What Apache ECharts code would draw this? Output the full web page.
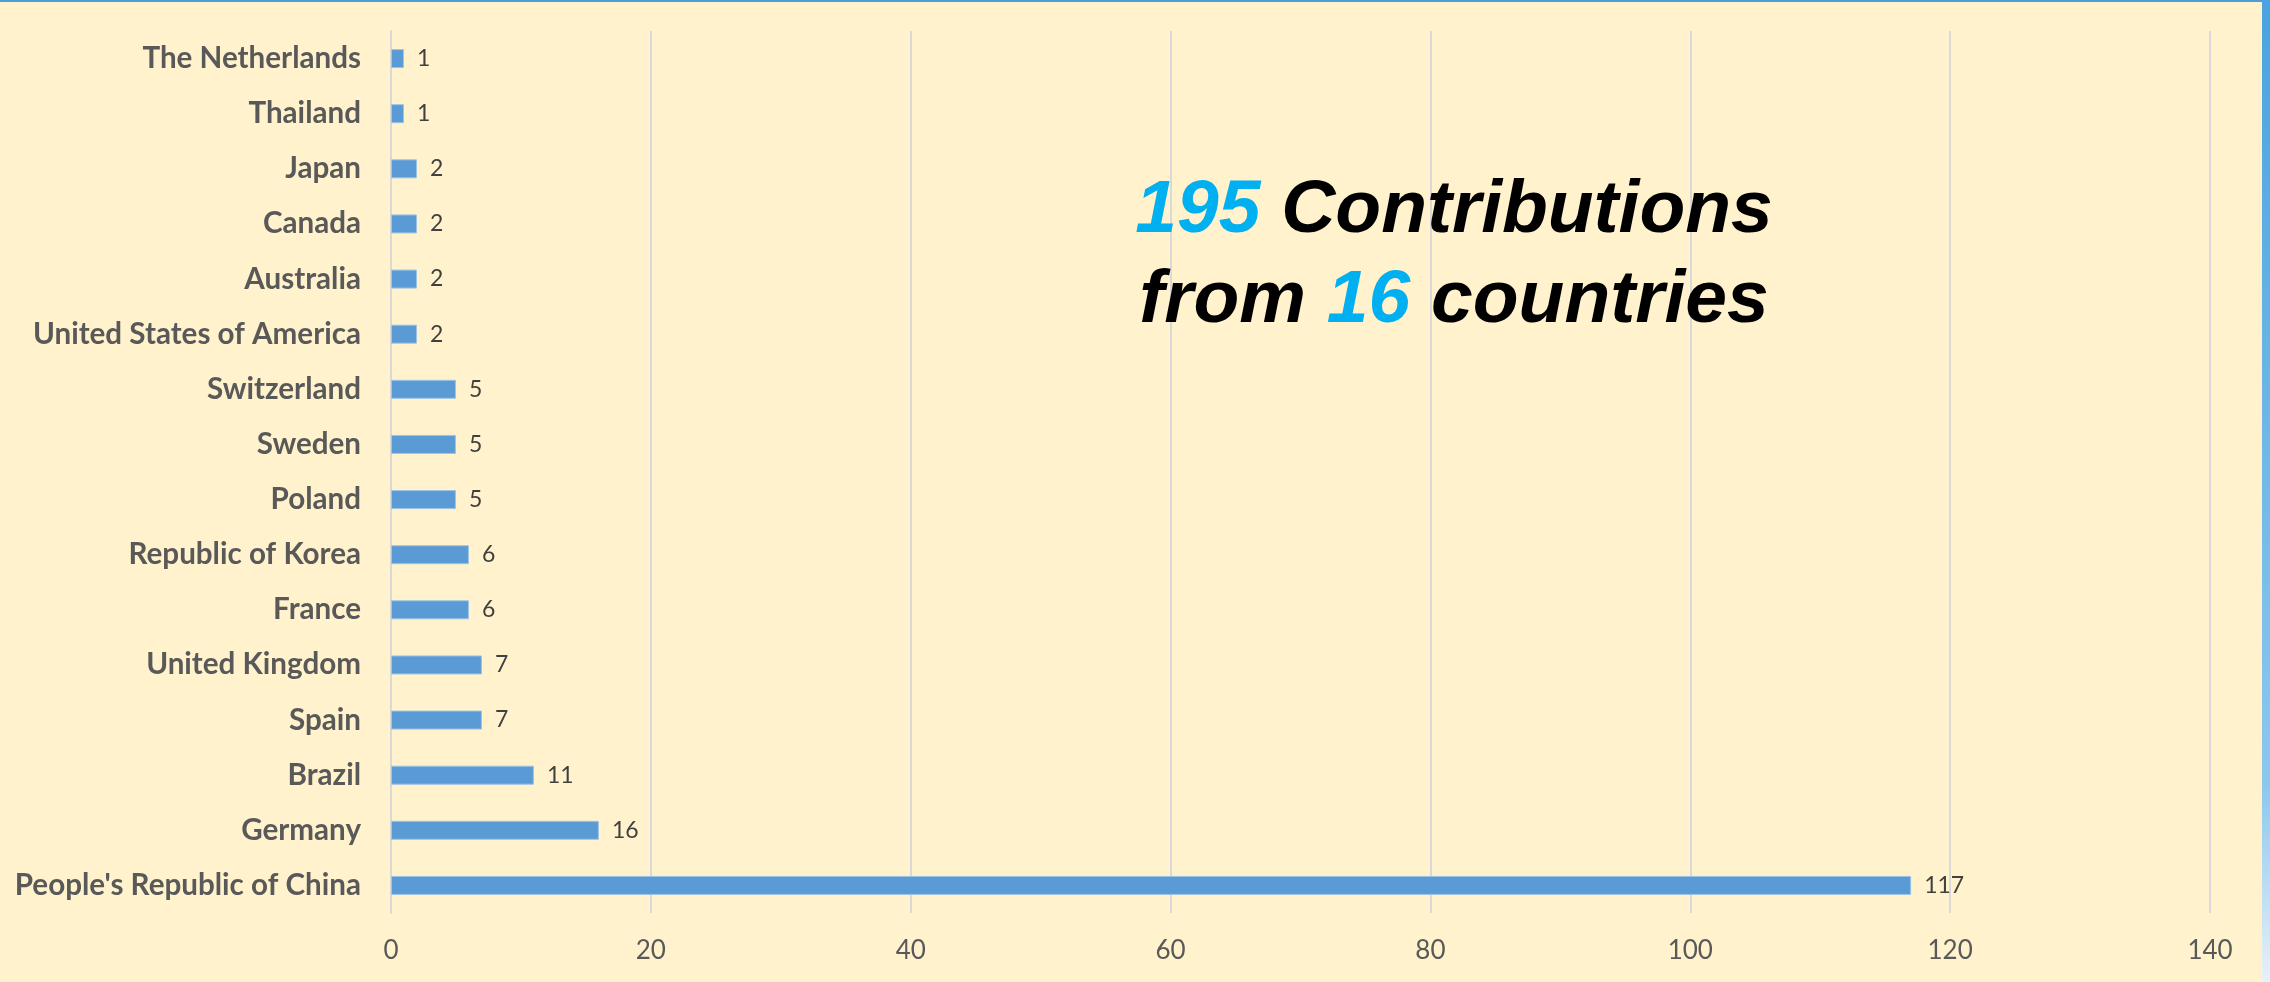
<!DOCTYPE html>
<html>
<head>
<meta charset="utf-8">
<script src="https://cdn.jsdelivr.net/npm/echarts@6/dist/echarts.min.js"></script>
<style>
html,body{margin:0;padding:0;background:#FFF2CC;}
#chart{width:2270px;height:982px;}
</style>
</head>
<body>
<div id="chart"></div>
<script>
const categories = ["The Netherlands","Thailand","Japan","Canada","Australia","United States of America","Switzerland","Sweden","Poland","Republic of Korea","France","United Kingdom","Spain","Brazil","Germany","People's Republic of China"];
const contributions = [1,1,2,2,2,2,5,5,5,6,6,7,7,11,16,117];
const xTicks = {min:0, max:140, interval:20};
const totalContributions = 195;
const totalCountries = 16;

const chart = echarts.init(document.getElementById('chart'), null, {renderer:'canvas'});
const titleFont = {fontFamily:'Liberation Sans', fontStyle:'italic', fontWeight:'bold', fontSize:75, lineHeight:90};
chart.setOption({
  backgroundColor:'#FFF2CC',
  animation:false,
  grid:{left:391, right:60, top:31, bottom:69, containLabel:false},
  xAxis:{
    type:'value', min:xTicks.min, max:xTicks.max, interval:xTicks.interval,
    axisLine:{show:false}, axisTick:{show:false},
    splitLine:{show:true, lineStyle:{color:'#D9D9D9', width:2}},
    axisLabel:{color:'#595959', fontFamily:'Lato', fontSize:26, margin:25}
  },
  yAxis:{
    type:'category', data:categories, inverse:true,
    axisLine:{show:true, lineStyle:{color:'#D9D9D9', width:2}},
    axisTick:{show:false},
    axisLabel:{color:'#595959', fontFamily:'Lato', fontWeight:'bold', fontSize:29.6, margin:30}
  },
  series:[{
    type:'bar', data:contributions, barWidth:19,
    itemStyle:{color:'#5B9BD5', borderColor:'#9DC3E6', borderWidth:1},
    label:{show:true, position:'right', distance:13, color:'#404040', fontFamily:'Lato', fontSize:23}
  }],
  graphic:[
    {type:'rect', left:0, top:0, shape:{width:2270, height:2}, style:{fill:'#4A9FD8'}, z:10},
    {type:'rect', left:2262, top:0, shape:{width:8, height:982},
     style:{fill:new echarts.graphic.LinearGradient(0,0,0,1,[{offset:0,color:'#4AA3DF'},{offset:0.8,color:'#8CC8EE'},{offset:1,color:'#E8F1F8'}])}, z:10},
    {type:'text', x:1454, y:166, z:20,
     style:{
       text:'{b|' + totalContributions + '} {k|Contributions}\n{k|from} {b|' + totalCountries + '} {k|countries}',
       align:'center', verticalAlign:'top',
       font:'italic bold 75px "Liberation Sans"', lineHeight:90,
       rich:{
         b:Object.assign({fill:'#00B0F0', color:'#00B0F0'}, titleFont),
         k:Object.assign({fill:'#000000', color:'#000000'}, titleFont)
       }
     }}
  ]
});
</script>
</body>
</html>
